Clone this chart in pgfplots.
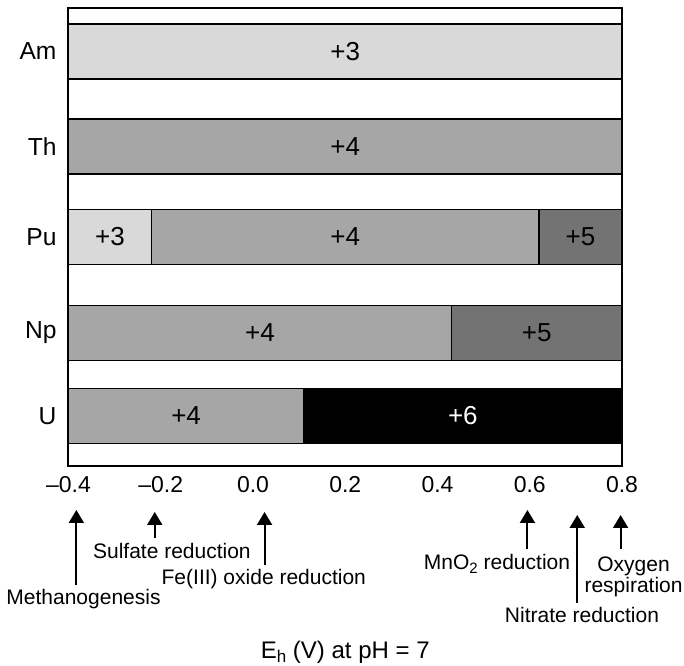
\documentclass[border=0pt]{standalone}
\usepackage{fontspec}
\setmainfont{Liberation Sans}
\usepackage{pgfplots}
\pgfplotsset{compat=1.18}
\usetikzlibrary{arrows.meta}
\definecolor{ox3}{HTML}{D9D9D9}
\definecolor{ox4}{HTML}{A6A6A6}
\definecolor{ox5}{HTML}{737373}
\definecolor{ox6}{HTML}{000000}
\tikzset{
  barlab/.style={font=\fontsize{13bp}{13bp}\selectfont},
  arrlab/.style={font=\fontsize{10.5bp}{10.5bp}\selectfont, anchor=base, inner sep=0pt},
  redox/.style={line width=1bp, -{Triangle[width=7.5bp,length=6.5bp]}},
}
% x axis coordinate = E_h + 0.4 (bars stack from 0); tick labels give E_h
\begin{document}
\begin{tikzpicture}
\path[use as bounding box] (0,0) rectangle (342bp,333bp);
\begin{axis}[
  at={(34.25bp,100bp)}, anchor=south west,
  width=276.75bp, height=229bp, scale only axis,
  xmin=0, xmax=1.2, ymin=0, ymax=458,
  xbar stacked, bar width=27.5bp,
  xtick={0,0.2,0.4,0.6,0.8,1,1.2},
  xticklabels={–0.4,–0.2,0.0,0.2,0.4,0.6,0.8},
  ytick={50,133,229.3,319.5,414.5},
  yticklabels={U,Np,Pu,Th,Am},
  major tick length=0pt,
  x tick label style={font=\fontsize{11.5bp}{11.5bp}\selectfont, yshift=-1.5bp},
  y tick label style={font=\fontsize{12.3bp}{12.3bp}\selectfont, xshift=-2.5bp},
  axis line style={line width=1bp},
  clip=false,
]
% oxidation state +3
\addplot[fill=ox3, draw=black, line width=0.6bp] coordinates {(0,50) (0,133) (0.18,229.3) (0,319.5) (1.2,414.5)};
% +4
\addplot[fill=ox4, draw=black, line width=0.6bp] coordinates {(0.51,50) (0.83,133) (0.84,229.3) (1.2,319.5) (0,414.5)};
% +5
\addplot[fill=ox5, draw=black, line width=0.6bp] coordinates {(0,50) (0.37,133) (0.18,229.3) (0,319.5) (0,414.5)};
% +6
\addplot[fill=ox6, draw=black, line width=0.6bp] coordinates {(0.69,50) (0,133) (0,229.3) (0,319.5) (0,414.5)};
\end{axis}
% labels and arrows, in the same units as the axis (x: E_h+0.4, y: axis units)
\begin{scope}[shift={(34.25bp,100bp)}, x=230.625bp, y=0.5bp]
\node[barlab] at (0.6,414.5) {+3};
\node[barlab] at (0.6,319.5) {+4};
\node[barlab] at (0.09,229.3) {+3};
\node[barlab] at (0.6,229.3) {+4};
\node[barlab] at (1.11,229.3) {+5};
\node[barlab] at (0.415,133) {+4};
\node[barlab] at (1.015,133) {+5};
\node[barlab] at (0.255,50) {+4};
\node[barlab, text=white] at (0.855,50) {+6};

\draw[redox] (0.017,-119) -- (0.017,-44);
\draw[redox] (0.187,-72) -- (0.187,-46);
\draw[redox] (0.425,-99) -- (0.425,-46);
\draw[redox] (0.995,-83) -- (0.995,-44);
\draw[redox] (1.103,-137) -- (1.103,-49);
\draw[redox] (1.197,-83) -- (1.197,-49);

\node[arrlab] at (0.0325,-139) {Methanogenesis};
\node[arrlab] at (0.2242,-93) {Sulfate reduction};
\node[arrlab] at (0.4234,-119) {Fe(III) oxide reduction};
\node[arrlab] at (0.929,-104) {MnO\raisebox{-0.3ex}{\fontsize{7.5bp}{7.5bp}\selectfont 2} reduction};
\node[arrlab] at (1.1133,-156.7) {Nitrate reduction};
\node[arrlab] at (1.225,-105.7) {Oxygen};
\node[arrlab] at (1.225,-126.7) {respiration};

\node[font=\fontsize{12bp}{12bp}\selectfont, anchor=base, inner sep=0pt] at (0.6,-192.3) {E\raisebox{-0.3ex}{\fontsize{8.5bp}{8.5bp}\selectfont h} (V) at pH = 7};
\end{scope}
\end{tikzpicture}
\end{document}
